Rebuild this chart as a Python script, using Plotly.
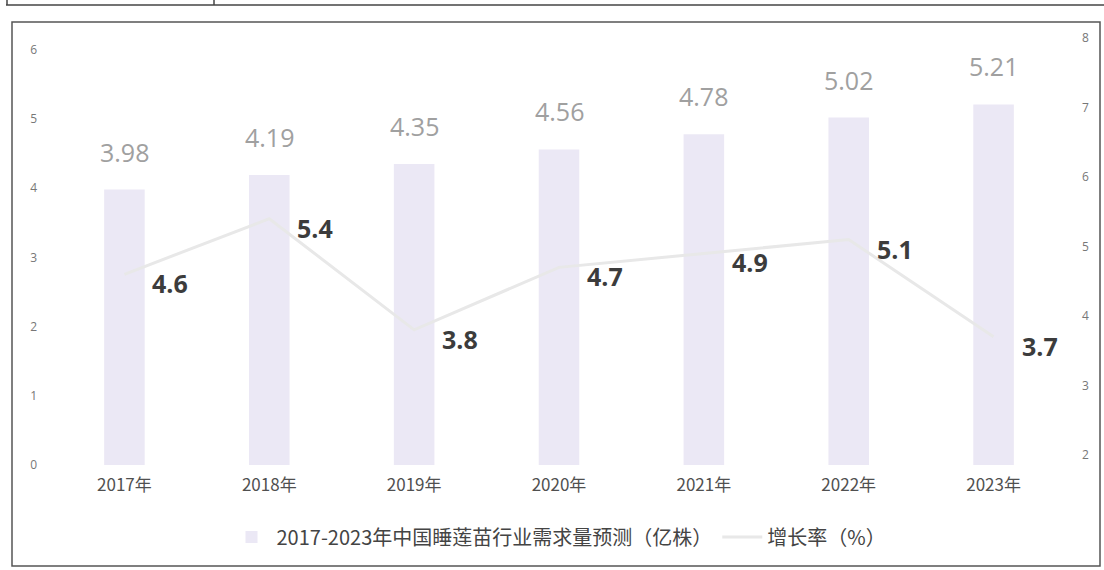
import plotly.graph_objects as go

years = ["2017年", "2018年", "2019年", "2020年", "2021年", "2022年", "2023年"]
demand = [3.98, 4.19, 4.35, 4.56, 4.78, 5.02, 5.21]
growth = [4.6, 5.4, 3.8, 4.7, 4.9, 5.1, 3.7]
left_ticks = [0, 1, 2, 3, 4, 5, 6]
right_ticks = [2, 3, 4, 5, 6, 7, 8]

bar_name = "2017-2023年中国睡莲苗行业需求量预测（亿株）"
line_name = "增长率（%）"

CJK = "Noto Sans CJK SC"
NUM = "Open Sans"

fig = go.Figure()
fig.add_trace(go.Bar(
    x=years, y=demand, name=bar_name,
    marker=dict(color="#ebe8f5", line=dict(width=0)),
    width=0.28,
))
fig.add_trace(go.Scatter(
    x=years, y=growth, name=line_name, yaxis="y2",
    mode="lines", line=dict(color="#e8e8e8", width=3),
))

annotations = []
for yr, v in zip(years, demand):
    annotations.append(dict(
        x=yr, y=v, xref="x", yref="y", text=f"{v:.2f}", showarrow=False,
        yshift=38, font=dict(family=NUM, size=25, color="#a0a0a0"),
    ))
for yr, v in zip(years, growth):
    annotations.append(dict(
        x=yr, y=v, xref="x", yref="y2", text=f"{v:.1f}", showarrow=False,
        xshift=46, yshift=-9,
        font=dict(family=NUM, size=25, color="#3c3c3c", weight="bold"),
    ))

W, H = 1104, 570
L, R, T, B = 52, 1066, 38, 465
def px(x):
    return (x - L) / (R - L)
def py(y):
    return (B - y) / (B - T)

shapes = [
    dict(type="rect", xref="paper", yref="paper",
         x0=px(12), x1=px(1100), y0=py(566), y1=py(22),
         line=dict(color="#555555", width=1.5), fillcolor="rgba(0,0,0,0)", layer="below"),
    dict(type="line", xref="paper", yref="paper",
         x0=px(6), x1=px(1104), y0=py(5), y1=py(5),
         line=dict(color="#444444", width=1.5)),
    dict(type="line", xref="paper", yref="paper",
         x0=px(7), x1=px(7), y0=py(0), y1=py(5),
         line=dict(color="#444444", width=1.5)),
    dict(type="line", xref="paper", yref="paper",
         x0=px(214), x1=px(214), y0=py(0), y1=py(5),
         line=dict(color="#444444", width=1.5)),
]

fig.update_layout(
    width=W, height=H,
    margin=dict(l=L, r=W - R, t=T, b=H - B),
    paper_bgcolor="white", plot_bgcolor="white",
    showlegend=True,
    legend=dict(orientation="h", x=0.5, xanchor="center", y=py(537), yanchor="middle",
                font=dict(family=CJK, size=20, color="#444444"),
                itemwidth=40, traceorder="normal"),
    xaxis=dict(type="category", showgrid=False, zeroline=False, showline=False,
               ticks="", ticklabelstandoff=8,
               tickfont=dict(family=CJK, size=17, color="#505050")),
    yaxis=dict(range=[0, 6.17], tickvals=left_ticks, showgrid=False, zeroline=False,
               showline=False, ticks="", ticklabelstandoff=14,
               tickfont=dict(family=NUM, size=12, color="#777777")),
    yaxis2=dict(range=[1.856, 8], tickvals=right_ticks, overlaying="y", side="right",
                showgrid=False, zeroline=False, showline=False, ticks="",
                ticklabelstandoff=15,
                tickfont=dict(family=NUM, size=12, color="#777777")),
    annotations=annotations,
    shapes=shapes,
)

fig.write_html("out.html", config={"displayModeBar": False},
               post_script="document.body.style.margin='0px';")
